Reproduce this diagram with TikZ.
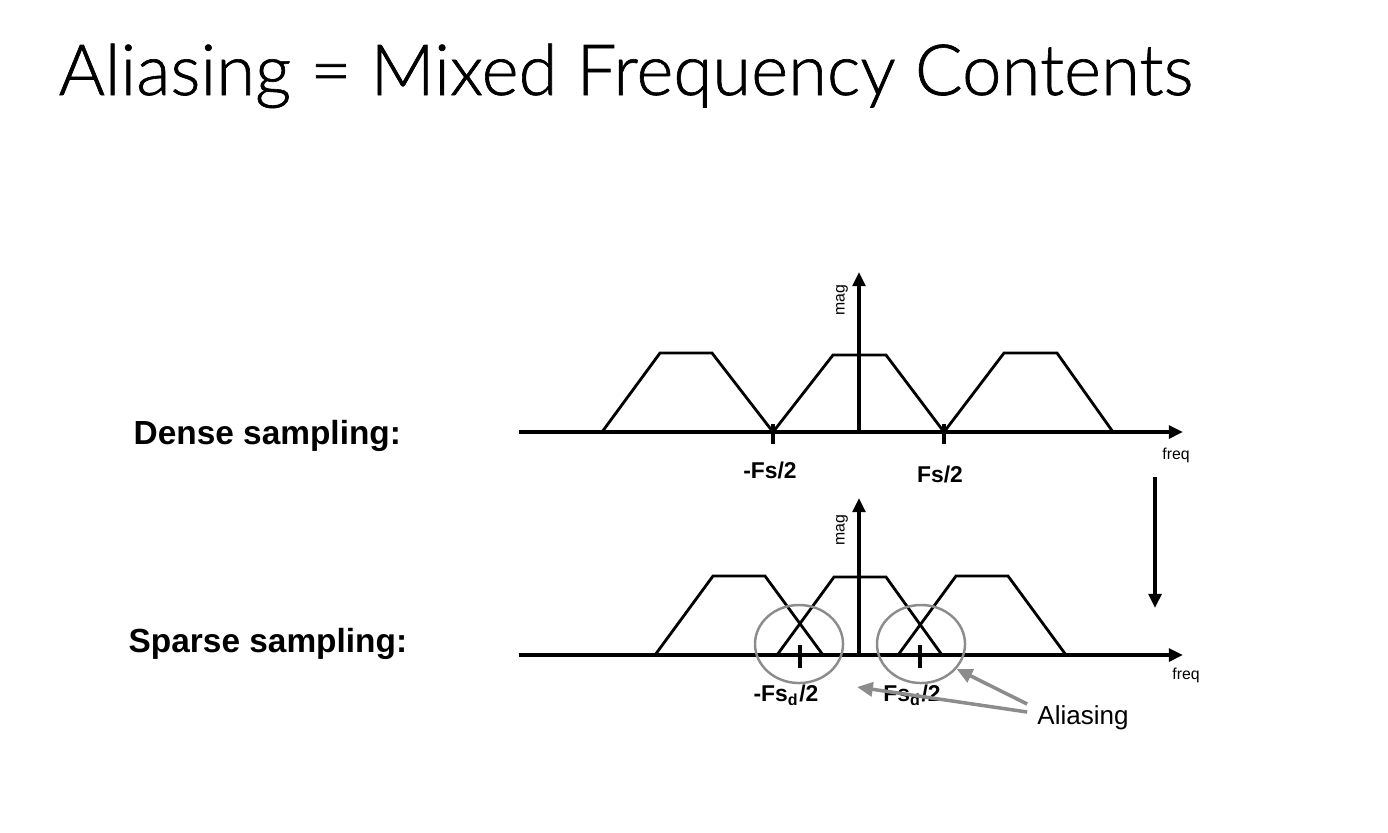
\documentclass[tikz,border=0pt]{standalone}
\usepackage{fontspec}
\setmainfont{Liberation Sans}
\newfontfamily\titlefont{Lato Light}[FakeBold=0.9]
\usetikzlibrary{arrows.meta,positioning,shapes.geometric}
\tikzset{
  axis/.style={line width=1pt,-{Triangle[length=4pt,width=3.6pt]}},
  band/.style={line width=0.8pt, line join=miter},
  tickmark/.style={line width=1pt},
  ring/.style={draw=black!45, line width=0.7pt, ellipse, minimum width=0.88cm, minimum height=0.78cm, inner sep=0pt},
  pointer/.style={draw=black!45, line width=1pt, -{Triangle[length=4.5pt,width=4pt]}},
  lbl/.style={font=\bfseries\fontsize{6.5}{7}\selectfont, inner sep=1pt},
  tiny/.style={font=\fontsize{4.5}{5}\selectfont, inner sep=0pt},
  rowlbl/.style={font=\bfseries\fontsize{9.5}{11}\selectfont, anchor=west, inner sep=0pt},
}

\begin{document}
\begin{tikzpicture}[x=0.01cm,y=-0.01cm]
  \useasboundingbox (0,0) rectangle (1388,832);

  \node [anchor=base west, inner sep=0pt, font=\titlefont\fontsize{20.1}{24}\selectfont] (title) at (58,95) {Aliasing = Mixed Frequency Contents};

  % dense sampling
  \node [rowlbl] (dense) at (133,436) {Dense sampling:};
  \coordinate (o1) at (859,432);
  \draw [axis] (519,432) -- (1183,432);
  \draw [axis] (o1) -- (859,272);
  \node [tiny, rotate=90] (mag1) at (842,300) {mag};
  \node [tiny] (freq1) at (1176,455) {freq};

  \draw [band] (602,432) -- (660,353) -- (712,353) -- (773,432);
  \draw [band] (773,432) -- (833,355) -- (886,355) -- (944,432);
  \draw [band] (944,432) -- (1004,353) -- (1057,353) -- (1113,432);

  \draw [tickmark] (773,424) -- (773,444);
  \draw [tickmark] (944,424) -- (944,444);
  \node [lbl] (mfs) at (770,470) {-Fs/2};
  \node [lbl] (pfs) at (940,474) {Fs/2};

  \coordinate (top) at (1155,477);
  \coordinate (bot) at (1155,608);
  \draw [axis] (top) -- (bot);

  % sparse sampling
  \node [rowlbl] (sparse) at (128,644) {Sparse sampling:};
  \coordinate (o2) at (859,655);
  \draw [axis] (519,655) -- (1183,655);
  \draw [axis] (o2) -- (859,498);
  \node [tiny, rotate=90] (mag2) at (842,530) {mag};
  \node [tiny] (freq2) at (1186,675) {freq};

  \draw [band] (655,655) -- (713,576) -- (765,576) -- (823,655);
  \draw [band] (777,655) -- (834,577) -- (886,577) -- (942,655);
  \draw [band] (898,655) -- (956,576) -- (1008,576) -- (1066,655);

  \draw [tickmark] (800,645) -- (800,668);
  \draw [tickmark] (920,645) -- (920,668);
  \node [lbl] (mfsd) at (786,695) {-Fs\textsubscript{d}/2};
  \node [lbl] (pfsd) at (912,695) {Fs\textsubscript{d}/2};

  \node [ring] (lcirc) at (799,644) {};
  \node [ring] (rcirc) at (921,644) {};

  \node [font=\fontsize{7.4}{8}\selectfont, inner sep=1pt] (alias) at (1083,718) {Aliasing};
  \coordinate (aimL) at (857,687);
  \draw [pointer] ([shift={(-6,-6)}]alias.west) -- (aimL);
  \draw [pointer] ([shift={(-6,-14)}]alias.west) -- (rcirc.-35);
\end{tikzpicture}
\end{document}
